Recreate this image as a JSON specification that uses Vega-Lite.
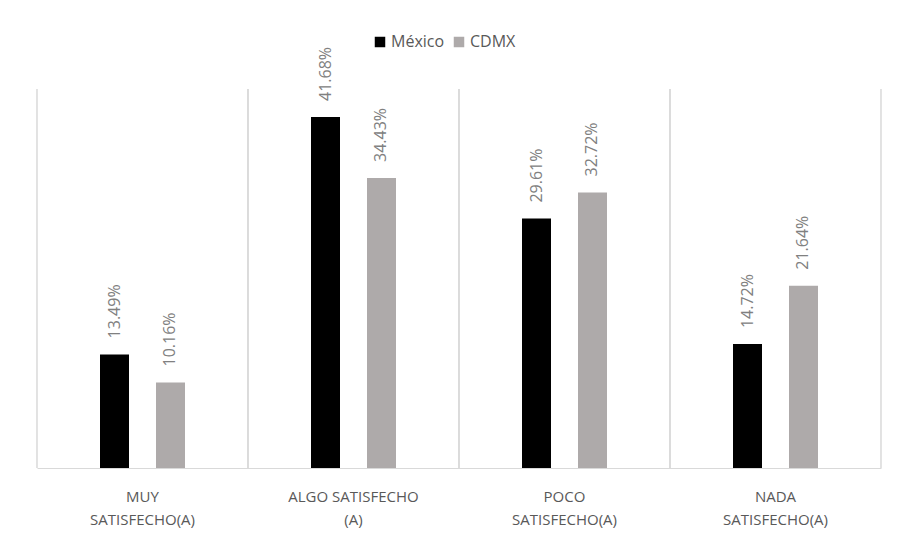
{
  "$schema": "https://vega.github.io/schema/vega-lite/v6.json",
  "width": 844,
  "height": 379,
  "autosize": {"type": "none"},
  "padding": {"left": 37, "top": 89, "right": 23, "bottom": 78},
  "background": "white",
  "config": {
    "view": {"stroke": null},
    "font": "Open Sans",
    "axisX": {
      "title": null,
      "labelAngle": 0,
      "ticks": false,
      "domain": true,
      "domainColor": "#d9d9d9",
      "domainWidth": 1,
      "grid": false,
      "labelFontSize": 15,
      "labelColor": "#595959",
      "labelPadding": 21,
      "labelLineHeight": 23,
      "labelBaseline": "top"
    }
  },
  "data": {
    "values": [
      {"nivel": "MUY SATISFECHO(A)", "serie": "México", "pct": 0.1349},
      {"nivel": "MUY SATISFECHO(A)", "serie": "CDMX", "pct": 0.1016},
      {"nivel": "ALGO SATISFECHO (A)", "serie": "México", "pct": 0.4168},
      {"nivel": "ALGO SATISFECHO (A)", "serie": "CDMX", "pct": 0.3443},
      {"nivel": "POCO SATISFECHO(A)", "serie": "México", "pct": 0.2961},
      {"nivel": "POCO SATISFECHO(A)", "serie": "CDMX", "pct": 0.3272},
      {"nivel": "NADA SATISFECHO(A)", "serie": "México", "pct": 0.1472},
      {"nivel": "NADA SATISFECHO(A)", "serie": "CDMX", "pct": 0.2164}
    ]
  },
  "encoding": {
    "x": {
      "field": "nivel", "type": "nominal", "sort": null, "title": null,
      "scale": {"paddingInner": 0, "paddingOuter": 0},
      "axis": {
        "labelExpr": "datum.value == 'ALGO SATISFECHO (A)' ? ['ALGO SATISFECHO', '(A)'] : split(datum.value, ' ')"
      }
    }
  },
  "layer": [
    {
      "mark": {"type": "rule", "color": "#d9d9d9", "strokeWidth": 1},
      "encoding": {
        "x": {"field": "nivel", "type": "nominal", "sort": null, "title": null, "bandPosition": 0,
              "axis": {
                "labelExpr": "datum.value == 'ALGO SATISFECHO (A)' ? ['ALGO SATISFECHO', '(A)'] : split(datum.value, ' ')"
              }}
      }
    },
    {
      "mark": {"type": "rule", "color": "#d9d9d9", "strokeWidth": 1},
      "encoding": {
        "x": {"field": "nivel", "type": "nominal", "sort": null, "title": null, "bandPosition": 1,
              "axis": {
                "labelExpr": "datum.value == 'ALGO SATISFECHO (A)' ? ['ALGO SATISFECHO', '(A)'] : split(datum.value, ' ')"
              }}
      }
    },
    {
      "mark": {"type": "bar", "width": 29},
      "encoding": {
        "xOffset": {"field": "serie", "type": "nominal", "sort": ["México", "CDMX"],
                    "scale": {"paddingInner": 0.232, "paddingOuter": 1}},
        "y": {"field": "pct", "type": "quantitative", "scale": {"domain": [0, 0.45], "nice": false}, "axis": null},
        "color": {
          "field": "serie", "type": "nominal",
          "scale": {"domain": ["México", "CDMX"], "range": ["#000000", "#aeaaaa"]},
          "legend": {
            "title": null,
            "orient": "none",
            "direction": "horizontal",
            "legendX": 335,
            "legendY": -55,
            "symbolType": "square",
            "symbolSize": 110,
            "symbolStrokeWidth": 0,
            "labelFontSize": 16,
            "labelColor": "#595959",
            "columnPadding": 6,
            "labelOffset": 3
          }
        }
      }
    },
    {
      "mark": {"type": "text", "angle": 270, "align": "left", "baseline": "middle", "dx": 16,
               "fontSize": 16, "color": "#808080"},
      "encoding": {
        "xOffset": {"field": "serie", "type": "nominal", "sort": ["México", "CDMX"]},
        "y": {"field": "pct", "type": "quantitative"},
        "text": {"field": "pct", "type": "quantitative", "format": ".2%"}
      }
    }
  ]
}
